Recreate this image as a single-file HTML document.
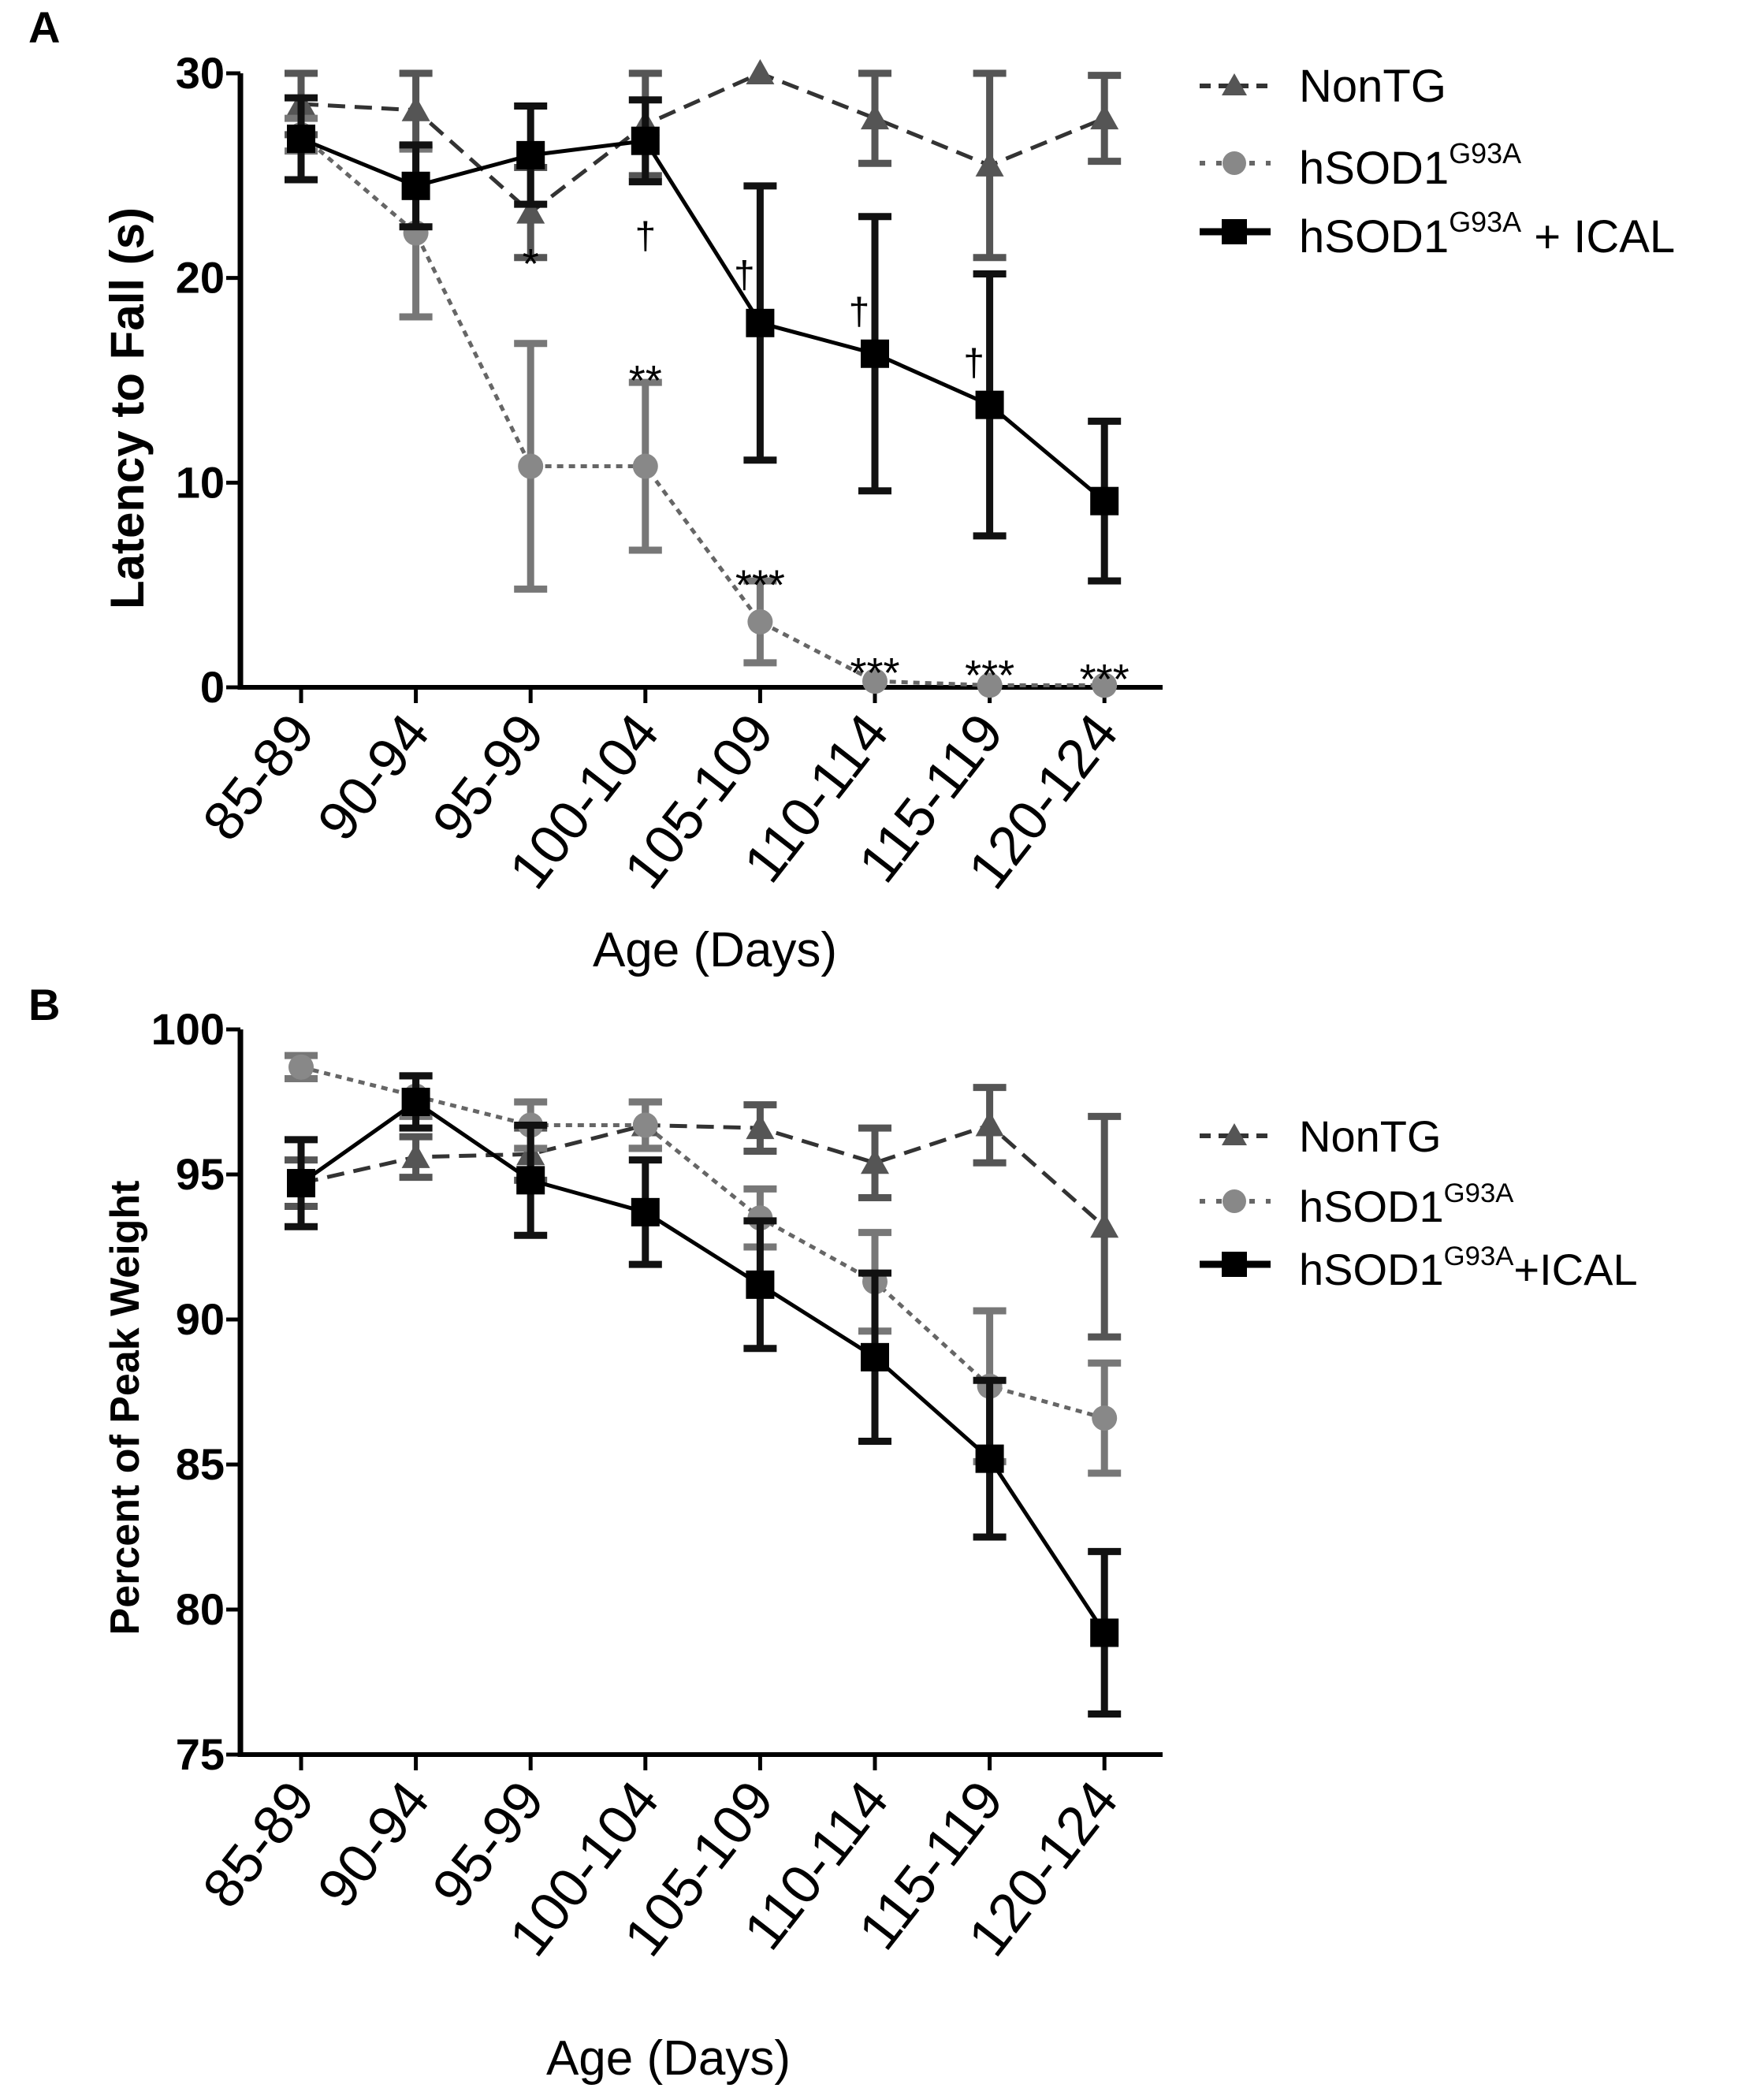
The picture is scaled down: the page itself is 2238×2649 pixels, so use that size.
<!DOCTYPE html>
<html><head><meta charset="utf-8"><style>
html,body{margin:0;padding:0;background:#fff;}
svg{display:block;font-family:"Liberation Sans",sans-serif;}
</style></head><body>
<svg id="fig" width="2238" height="2649" viewBox="0 0 2238 2649" xmlns="http://www.w3.org/2000/svg">
<text x="36" y="54" font-size="56" font-weight="bold">A</text>
<text x="36" y="1294" font-size="56" font-weight="bold">B</text>
<text transform="translate(182,518) rotate(-90)" text-anchor="middle" font-size="60" font-weight="bold">Latency to Fall (s)</text>
<text transform="translate(176,1786) rotate(-90)" text-anchor="middle" font-size="52" font-weight="bold">Percent of Peak Weight</text>
<text x="907" y="1226" text-anchor="middle" font-size="62">Age (Days)</text>
<text x="848" y="2632" text-anchor="middle" font-size="62">Age (Days)</text>
<g id="legA"></g>
<g id="legB"></g>
<g id="pa"></g>
<g id="pb"></g>
</svg>
<script>
const categories = ["85-89","90-94","95-99","100-104","105-109","110-114","115-119","120-124"];
const aNonTG = [28.5,28.2,23.2,27.5,30,27.8,25.5,27.8];
const aNonTGErr = [1.5,1.8,2.2,2.5,0,2.2,4.5,2.1];
const aSOD = [27,22.2,10.8,10.8,3.2,0.3,0.1,0.1];
const aSODErr = [0.8,4.1,6,4.1,2,0,0,0];
const aICAL = [26.8,24.5,26,26.7,17.8,16.3,13.8,9.1];
const aICALErr = [2,2,2.4,2,6.7,6.7,6.4,3.9];
const aTicks = [0,10,20,30];
const bNonTG = [94.7,95.6,95.7,96.7,96.6,95.4,96.7,93.2];
const bNonTGErr = [0.8,0.7,0.9,0.8,0.8,1.2,1.3,3.8];
const bSOD = [98.7,97.7,96.7,96.7,93.5,91.3,87.7,86.6];
const bSODErr = [0.4,0.7,0.8,0.8,1.0,1.7,2.6,1.9];
const bICAL = [94.7,97.5,94.8,93.7,91.2,88.7,85.2,79.2];
const bICALErr = [1.5,0.9,1.9,1.8,2.2,2.9,2.7,2.8];
const bTicks = [75,80,85,90,95,100];
const starIdx = [2,3,4,5,6,7];
const starText = ["*","**","***","***","***","***"];
const starVal = [21.3,15.6,5.6,1.3,1.2,1.0];
const daggerIdx = [3,4,5,6];
const daggerVal = [22.2,20.3,18.5,16.0];

const NS="http://www.w3.org/2000/svg";
function mk(p,t,a){const e=document.createElementNS(NS,t);for(const k in a)e.setAttribute(k,a[k]);p.appendChild(e);return e;}
const X0=305, XEND=1475, C0=382, CS=145.6;
const xs=i=>C0+i*CS;

function panel(g,name,yMin,yMax,yTop,yBot,ticks,series,tickFont){
  const ys=v=>yBot-(v-yMin)/(yMax-yMin)*(yBot-yTop);
  let e=mk(g,'line',{x1:X0,y1:yTop,x2:X0,y2:yBot+3,stroke:'#000','stroke-width':7});
  
  
  e=mk(g,'line',{x1:X0-3,y1:yBot,x2:XEND,y2:yBot,stroke:'#000','stroke-width':6});
  
  
  ticks.forEach(t=>{
    mk(g,'line',{x1:X0-18,y1:ys(t),x2:X0,y2:ys(t),stroke:'#000','stroke-width':5});
    const tx=mk(g,'text',{x:X0-20,y:ys(t)+19,'text-anchor':'end','font-size':tickFont,'font-weight':'bold'});
    tx.textContent=t;
    
    
  });
  categories.forEach((c,i)=>{
    mk(g,'line',{x1:xs(i),y1:yBot,x2:xs(i),y2:yBot+20,stroke:'#000','stroke-width':5});
    const tx=mk(g,'text',{transform:`translate(${xs(i)+20},${yBot+58}) rotate(-52)`,'text-anchor':'end','font-size':70});
    tx.textContent=c;
    
    
  });
  series.forEach(s=>{
    const sg=mk(g,'g',{});
    
    
    s.v.forEach((v,i)=>{
      const er=s.e[i]; if(er<=0) return;
      const top=ys(Math.min(v+er,yMax)), bot=ys(v-er);
      const eb=mk(sg,'path',{d:`M${xs(i)},${top}V${bot}M${xs(i)-21},${top}h42M${xs(i)-21},${bot}h42`,stroke:s.ec,'stroke-width':9,fill:'none'});
      
      
    });
    const pts=s.v.map((v,i)=>xs(i)+','+ys(v)).join(' ');
    const ln=mk(sg,'polyline',{points:pts,fill:'none',stroke:s.lc,'stroke-width':s.lw,'stroke-dasharray':s.dash});
    
    
    s.v.forEach((v,i)=>{
      const x=xs(i),y=ys(v);let m;
      if(s.mk==='sq') m=mk(sg,'rect',{x:x-18,y:y-18,width:36,height:36,fill:s.mc});
      else if(s.mk==='ci') m=mk(sg,'circle',{cx:x,cy:y,r:16,fill:s.mc});
      else m=mk(sg,'path',{d:`M${x},${y-18}L${x+18},${y+14}L${x-18},${y+14}Z`,fill:s.mc});
      
      
    });
  });
  return ys;
}
const defs=(n,ne,s,se,c,ce)=>[
  {key:'nontg',v:n,e:ne,ec:'#555',lc:'#333',lw:5,dash:'22 12',mk:'tri',mc:'#555'},
  {key:'hsod1',v:s,e:se,ec:'#777',lc:'#666',lw:5,dash:'8 7',mk:'ci',mc:'#888'},
  {key:'hsod1-ical',v:c,e:ce,ec:'#111',lc:'#000',lw:5,dash:'',mk:'sq',mc:'#000'}
];
const ysA=panel(document.getElementById('pa'),'panel-a',0,30,93,872,aTicks,defs(aNonTG,aNonTGErr,aSOD,aSODErr,aICAL,aICALErr),56);
panel(document.getElementById('pb'),'panel-b',75,100,1306,2226,bTicks,defs(bNonTG,bNonTGErr,bSOD,bSODErr,bICAL,bICALErr),56);
const pa=document.getElementById('pa');
starIdx.forEach((ci,k)=>{
  const t=mk(pa,'text',{x:xs(ci),y:ysA(starVal[k])+34,'text-anchor':'middle','font-size':54});
  t.textContent=starText[k];
  
  
});
daggerIdx.forEach((ci,k)=>{
  const t=mk(pa,'text',{x:xs(ci)-(k===0?0:20),y:ysA(daggerVal[k])+20,'text-anchor':'middle','font-size':48});
  t.textContent='†';
  
  
});
function legend(g,ys,sup2,fs){
  const items=[['NonTG','',''],['hSOD1','G93A',''],['hSOD1','G93A',sup2]];
  const st=defs([],[],[],[],[],[]);
  items.forEach((it,k)=>{
    const y=ys[k], s=st[k];
    const l=mk(g,'line',{x1:1522,y1:y,x2:1612,y2:y,stroke:s.lc,'stroke-width':k===2?9:6,'stroke-dasharray':k===0?'14 10':(k===1?'7 14':'')});
    
    
    let m;
    if(s.mk==='sq') m=mk(g,'rect',{x:1550,y:y-16,width:32,height:32,fill:'#000'});
    else if(s.mk==='ci') m=mk(g,'circle',{cx:1566,cy:y,r:15,fill:'#888'});
    else m=mk(g,'path',{d:`M1566,${y-16}L1582,${y+12}L1550,${y+12}Z`,fill:'#555'});
    
    
    const t=mk(g,'text',{x:1648,y:y+(k===0?20:26),'font-size':fs});
    
    
    t.appendChild(document.createTextNode(it[0]));
    if(it[1]){const ts=mk(t,'tspan',{'font-size':fs*0.62,dy:-fs*0.45});ts.textContent=it[1];}
    if(it[2]){const ts=mk(t,'tspan',{dy:fs*0.45});ts.textContent=it[2];}
  });
}
legend(document.getElementById('legA'),[109,207,294],' + ICAL',58);
legend(document.getElementById('legB'),[1441,1524,1604],'+ICAL',56);
</script>
</body></html>
